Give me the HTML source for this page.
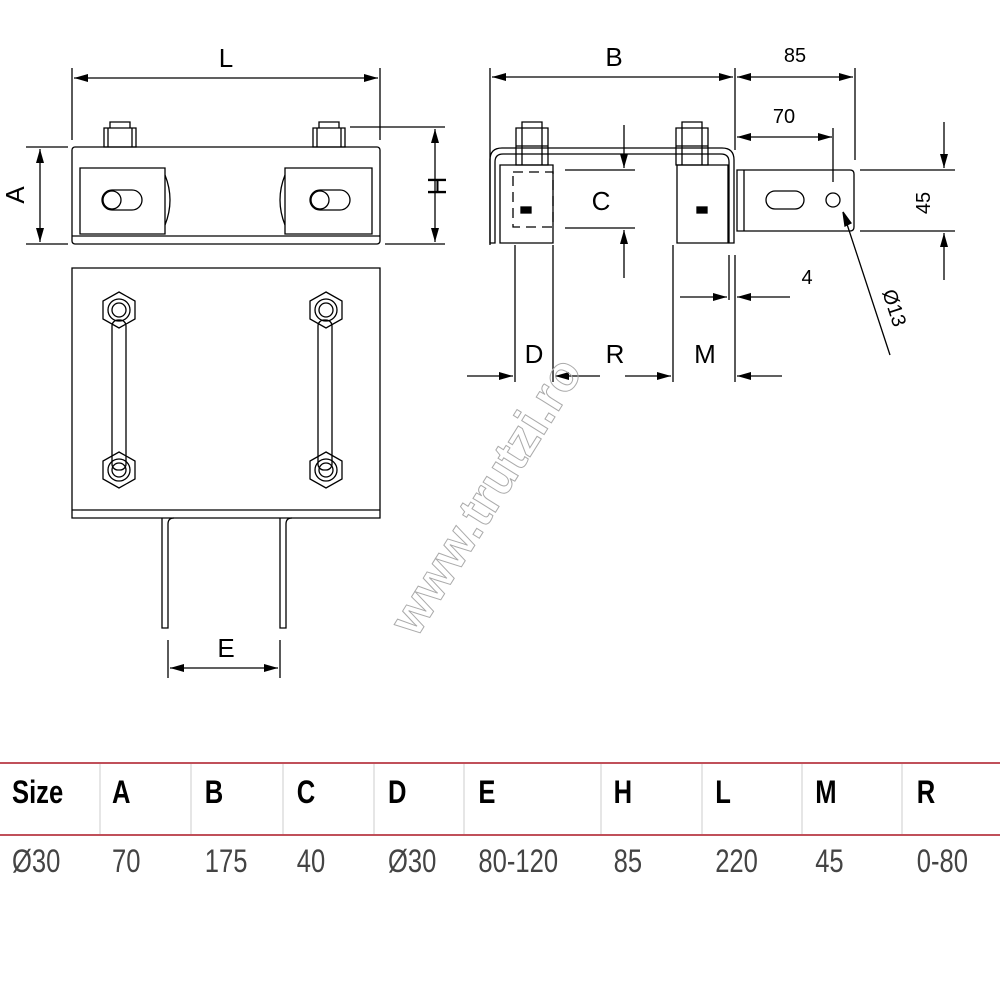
<!DOCTYPE html>
<html><head><meta charset="utf-8"><style>
body{margin:0;background:#fff}
svg{display:block}
text{font-family:"Liberation Sans",sans-serif}
</style></head><body>
<svg width="1000" height="1000" viewBox="0 0 1000 1000" xmlns="http://www.w3.org/2000/svg">
<defs>
<marker id="a" markerWidth="14" markerHeight="8" refX="14" refY="4" orient="auto-start-reverse" markerUnits="userSpaceOnUse"><path d="M0,0 L14,4 L0,8z" fill="#000"/></marker>
</defs>
<g stroke="#000" stroke-width="1.3" fill="none">
<line x1="72" y1="68" x2="72" y2="140"/><line x1="380" y1="68" x2="380" y2="140"/>
<line x1="74" y1="78" x2="378" y2="78" marker-start="url(#a)" marker-end="url(#a)"/>
<rect x="72" y="147" width="308" height="97" rx="3"/>
<line x1="72" y1="236" x2="380" y2="236"/>
<path d="M80,168 H165 V234 H80z"/><path d="M285,168 H372 V234 H285z"/>
<path d="M165,175 q10,25 0,50"/><path d="M285,175 q-10,25 0,50"/>
<rect x="102" y="190" width="40" height="20" rx="10"/><rect x="310" y="190" width="40" height="20" rx="10"/>
<circle cx="112" cy="200" r="9"/><circle cx="320" cy="200" r="9"/>
<path d="M104,128 h32 v19 h-32z M108,128 v19 M132,128 v19 M110,128 v-6 h20 v6"/>
<path d="M313,128 h32 v19 h-32z M317,128 v19 M341,128 v19 M319,128 v-6 h20 v6"/>
<line x1="26" y1="147" x2="68" y2="147"/><line x1="26" y1="244" x2="68" y2="244"/>
<line x1="40" y1="149" x2="40" y2="242" marker-start="url(#a)" marker-end="url(#a)"/>
<line x1="350" y1="127" x2="445" y2="127"/><line x1="385" y1="244" x2="445" y2="244"/>
<line x1="435" y1="129" x2="435" y2="242" marker-start="url(#a)" marker-end="url(#a)"/>
<path d="M72,268 H380 V518 H72z M72,510 H380"/>
<path d="M162,518 V628 H168 V524 q0,-6 6,-6"/><path d="M280,518 V628 H286 V524 q0,-6 6,-6"/>
<rect x="112" y="320" width="14" height="150" rx="6"/><rect x="318" y="320" width="14" height="150" rx="6"/>
<g>
<polygon points="119,292 135,301 135,319 119,328 103,319 103,301"/><circle cx="119" cy="310" r="11"/><circle cx="119" cy="310" r="7"/>
<polygon points="119,452 135,461 135,479 119,488 103,479 103,461"/><circle cx="119" cy="470" r="11"/><circle cx="119" cy="470" r="7"/>
<polygon points="326,292 342,301 342,319 326,328 310,319 310,301"/><circle cx="326" cy="310" r="11"/><circle cx="326" cy="310" r="7"/>
<polygon points="326,452 342,461 342,479 326,488 310,479 310,461"/><circle cx="326" cy="470" r="11"/><circle cx="326" cy="470" r="7"/>
</g>
<line x1="168" y1="640" x2="168" y2="678"/><line x1="280" y1="640" x2="280" y2="678"/>
<line x1="170" y1="668" x2="278" y2="668" marker-start="url(#a)" marker-end="url(#a)"/>
<line x1="490" y1="68" x2="490" y2="245"/><line x1="735" y1="68" x2="735" y2="150"/><line x1="855" y1="68" x2="855" y2="160"/>
<line x1="492" y1="77" x2="733" y2="77" marker-start="url(#a)" marker-end="url(#a)"/>
<line x1="737" y1="77" x2="853" y2="77" marker-start="url(#a)" marker-end="url(#a)"/>
<line x1="737" y1="137" x2="832" y2="137" marker-start="url(#a)" marker-end="url(#a)"/>
<line x1="833" y1="128" x2="833" y2="182"/>
<path d="M490,243 V160 q0,-12 12,-12 H722 q12,0 12,12 V243 h-5 V162 q0,-8 -8,-8 H503 q-8,0 -8,8 V243z"/>
<path d="M500,165 H553 V243 H500z"/><path d="M677,165 H728 V243 H677z"/>
<path d="M513,172 H553 V227 H513z" stroke-dasharray="10,6"/>
<rect x="521" y="207" width="10" height="6" fill="#000"/><rect x="697" y="207" width="10" height="6" fill="#000"/>
<path d="M516,128 h32 v37 h-32z M516,146 h32 M522,128 v37 M542,128 v37 M522,128 v-6 h20 v6"/>
<path d="M676,128 h32 v37 h-32z M676,146 h32 M682,128 v37 M702,128 v37 M682,128 v-6 h20 v6"/>
<path d="M737,170 H850 q4,0 4,4 V227 q0,4 -4,4 H737z M744,170 V231"/>
<rect x="766" y="191" width="38" height="18" rx="9"/><circle cx="833" cy="200" r="7"/>
<line x1="843" y1="212" x2="890" y2="355"/><path d="M843,212 l2,14 l6,-3z" fill="#000"/>
<line x1="565" y1="170" x2="635" y2="170"/><line x1="565" y1="228" x2="635" y2="228"/>
<line x1="624" y1="125" x2="624" y2="168" marker-end="url(#a)"/><line x1="624" y1="278" x2="624" y2="230" marker-end="url(#a)"/>
<line x1="860" y1="170" x2="955" y2="170"/><line x1="860" y1="231" x2="955" y2="231"/>
<line x1="944" y1="122" x2="944" y2="168" marker-end="url(#a)"/><line x1="944" y1="280" x2="944" y2="233" marker-end="url(#a)"/>
<line x1="515" y1="245" x2="515" y2="382"/><line x1="553" y1="245" x2="553" y2="382"/>
<line x1="673" y1="245" x2="673" y2="382"/><line x1="735" y1="255" x2="735" y2="382"/>
<line x1="467" y1="376" x2="513" y2="376" marker-end="url(#a)"/>
<line x1="600" y1="376" x2="555" y2="376" marker-end="url(#a)"/>
<line x1="625" y1="376" x2="671" y2="376" marker-end="url(#a)"/>
<line x1="782" y1="376" x2="737" y2="376" marker-end="url(#a)"/>
<line x1="729" y1="255" x2="729" y2="300"/>
<line x1="680" y1="297" x2="727" y2="297" marker-end="url(#a)"/>
<line x1="790" y1="297" x2="737" y2="297" marker-end="url(#a)"/>
<line x1="0" y1="763" x2="1000" y2="763" stroke="#c0505a" stroke-width="2"/>
<line x1="0" y1="835" x2="1000" y2="835" stroke="#c0505a" stroke-width="2"/>
<g stroke="#ccc" stroke-width="1"><line x1="100" y1="764" x2="100" y2="834"/><line x1="191" y1="764" x2="191" y2="834"/><line x1="283" y1="764" x2="283" y2="834"/><line x1="374" y1="764" x2="374" y2="834"/><line x1="464" y1="764" x2="464" y2="834"/><line x1="601" y1="764" x2="601" y2="834"/><line x1="702" y1="764" x2="702" y2="834"/><line x1="802" y1="764" x2="802" y2="834"/><line x1="902" y1="764" x2="902" y2="834"/></g>
</g>
<g font-size="26" fill="#000">
<text x="226" y="67" text-anchor="middle">L</text>
<text x="614" y="66" text-anchor="middle">B</text>
<text x="795" y="62" text-anchor="middle" font-size="20">85</text>
<text x="784" y="123" text-anchor="middle" font-size="20">70</text>
<text x="807" y="284" text-anchor="middle" font-size="20">4</text>
<text x="534" y="363" text-anchor="middle">D</text>
<text x="615" y="363" text-anchor="middle">R</text>
<text x="705" y="363" text-anchor="middle">M</text>
<text x="226" y="657" text-anchor="middle">E</text>
<text transform="translate(24,195) rotate(-90)" text-anchor="middle">A</text>
<text transform="translate(428,186) rotate(90)" text-anchor="middle">H</text>
<text x="601" y="210" text-anchor="middle">C</text>
<text transform="translate(930,203) rotate(-90)" text-anchor="middle" font-size="20">45</text>
<text transform="translate(888,310) rotate(72)" text-anchor="middle" font-size="20">Ø13</text>
</g>
<text transform="translate(500,505) rotate(-58)" text-anchor="middle" font-size="50" font-weight="bold" fill="none" stroke="#aaa" stroke-width="1">www.trutzi.ro</text>
<g transform="scale(0.8,1)">
<g font-size="32" font-weight="bold">
<text x="15" y="803">Size</text>
<text x="140" y="803">A</text><text x="256" y="803">B</text><text x="371" y="803">C</text><text x="485" y="803">D</text><text x="598" y="803">E</text><text x="767" y="803">H</text><text x="894" y="803">L</text><text x="1019" y="803">M</text><text x="1146" y="803">R</text>
</g>
<g font-size="32" fill="#444">
<text x="15" y="872">Ø30</text><text x="140" y="872">70</text><text x="256" y="872">175</text><text x="371" y="872">40</text><text x="485" y="872">Ø30</text><text x="598" y="872">80-120</text><text x="767" y="872">85</text><text x="894" y="872">220</text><text x="1019" y="872">45</text><text x="1146" y="872">0-80</text>
</g>
</g>
</svg>
</body></html>
